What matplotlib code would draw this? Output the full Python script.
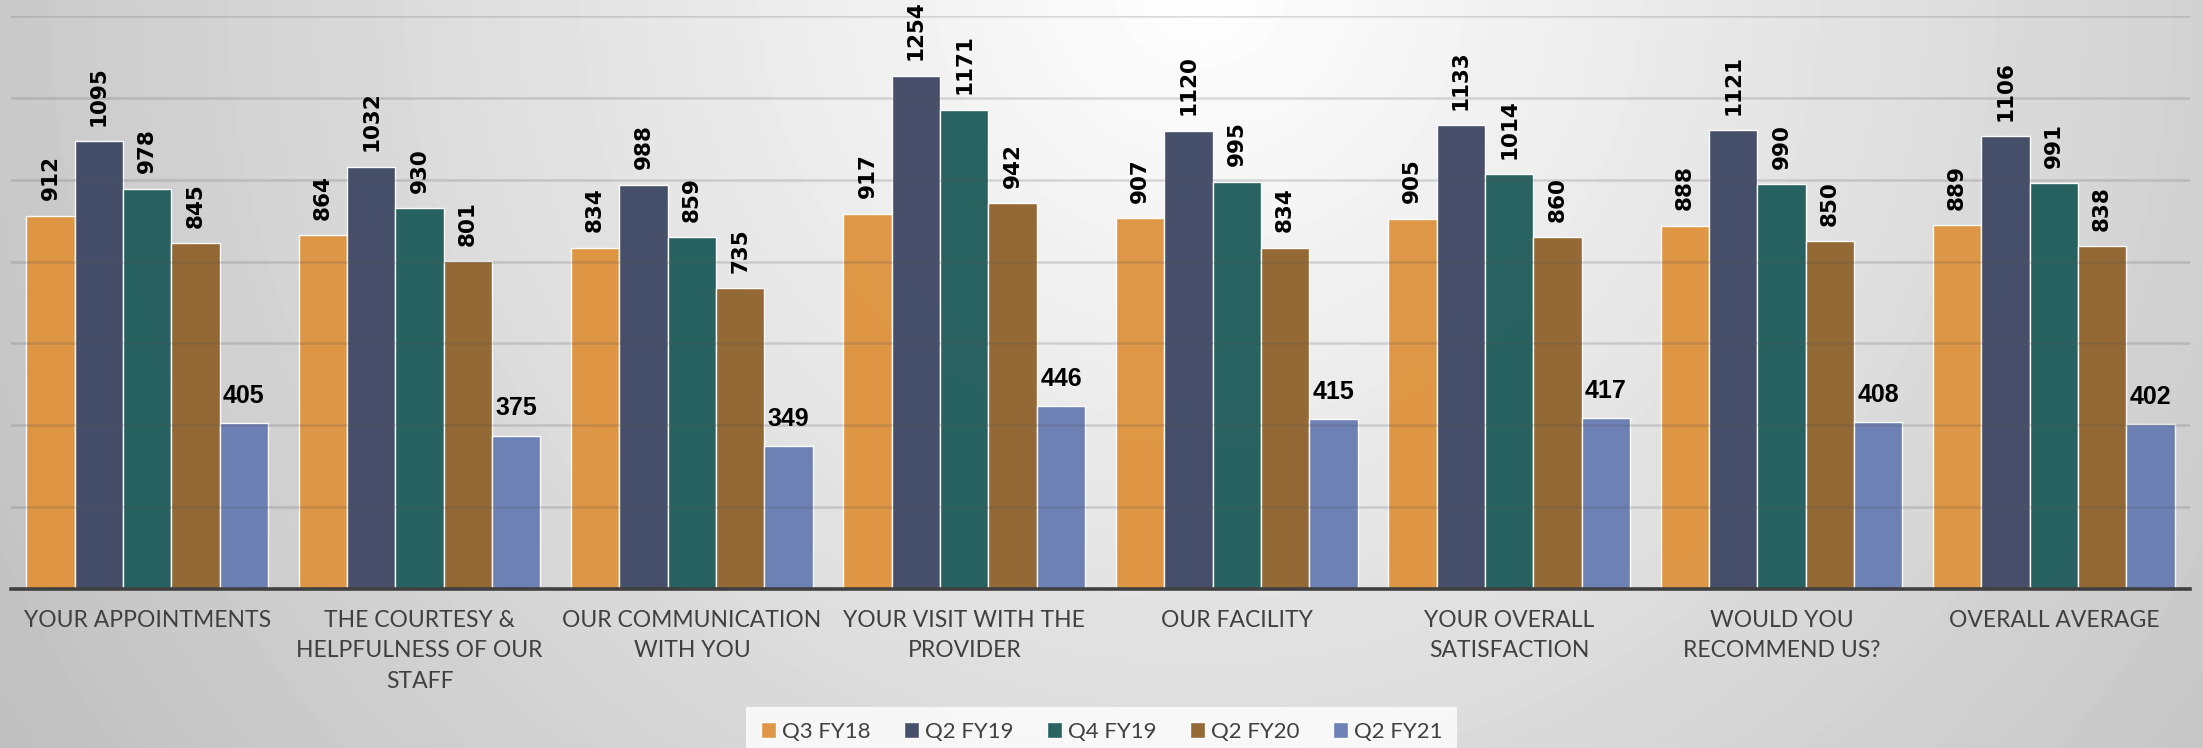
import numpy as np
import matplotlib
matplotlib.use("Agg")
import matplotlib.pyplot as plt

# Survey response counts per question and period
categories = [
    "YOUR APPOINTMENTS",
    "THE COURTESY &\nHELPFULNESS OF OUR\nSTAFF",
    "OUR COMMUNICATION\nWITH YOU",
    "YOUR VISIT WITH THE\nPROVIDER",
    "OUR FACILITY",
    "YOUR OVERALL\nSATISFACTION",
    "WOULD YOU\nRECOMMEND US?",
    "OVERALL AVERAGE",
]
series_names = ["Q3 FY18", "Q2 FY19", "Q4 FY19", "Q2 FY20", "Q2 FY21"]
q3_fy18 = [912, 864, 834, 917, 907, 905, 888, 889]
q2_fy19 = [1095, 1032, 988, 1254, 1120, 1133, 1121, 1106]
q4_fy19 = [978, 930, 859, 1171, 995, 1014, 990, 991]
q2_fy20 = [845, 801, 735, 942, 834, 860, 850, 838]
q2_fy21 = [405, 375, 349, 446, 415, 417, 408, 402]

series_values = [q3_fy18, q2_fy19, q4_fy19, q2_fy20, q2_fy21]
colors = ["#DE9440", "#414A66", "#225E5C", "#916530", "#6A7EB4"]

W, H, DPI = 2203, 748, 100
fig = plt.figure(figsize=(W / DPI, H / DPI), dpi=DPI)

# Radial grey backdrop, brightest near the top centre
bg = fig.add_axes([0, 0, 1, 1], zorder=-10)
yy, xx = np.mgrid[0:H, 0:W]
d = np.hypot(xx - 1200.0, yy + 20.0)
shade = np.clip(255 - 0.045 * d, 190, 255)
bg.imshow(shade, cmap="gray", vmin=0, vmax=255, aspect="auto",
          extent=(0, 1, 0, 1), interpolation="bilinear")
bg.set_axis_off()

ax = fig.add_axes([11 / W, 159 / H, 2179 / W, (589 - 16) / H])
ax.set_facecolor("none")

n = len(series_names)
x = np.arange(len(categories))
bw = 0.1775

for i, (name, vals, col) in enumerate(zip(series_names, series_values, colors)):
    pos = x + (i - (n - 1) / 2) * bw
    bars = ax.bar(pos, vals, width=bw, color=col, alpha=0.97,
                  edgecolor=(1, 1, 1, 0.55), linewidth=1.0, label=name, zorder=2)
    for b, v in zip(bars, vals):
        cx = b.get_x() + b.get_width() / 2
        if i < n - 1:
            ax.annotate(f"{v}", (cx, v), xytext=(0, 11), textcoords="offset points",
                        ha="center", va="bottom", rotation=90,
                        fontsize=15.5, fontweight="bold", color="black",
                        family=["DejaVu Sans"], zorder=5)
        else:
            ax.annotate(f"{v}", (cx, v), xytext=(0, 11), textcoords="offset points",
                        ha="center", va="bottom",
                        fontsize=18, fontweight="bold", color="black",
                        family=["Liberation Sans Narrow", "Liberation Sans", "DejaVu Sans"],
                        zorder=5)

ax.set_xlim(-0.5, len(categories) - 0.5)
ax.set_ylim(0, 1400)
ax.set_yticks(np.arange(0, 1401, 200))
ax.yaxis.grid(True, color="#555555", alpha=0.2, linewidth=1.8, zorder=3)
ax.set_axisbelow(False)
ax.tick_params(axis="y", left=False, labelleft=False)
for s in ["left", "right", "top"]:
    ax.spines[s].set_visible(False)
ax.spines["bottom"].set_color("#404040")
ax.spines["bottom"].set_linewidth(2.6)
ax.spines["bottom"].set_zorder(6)

ax.set_xticks(x)
ax.set_xticklabels(categories, fontsize=16.5, color="#404040",
                   family=["Lato", "DejaVu Sans"], linespacing=1.55)
ax.tick_params(axis="x", length=0, pad=15)

leg = fig.legend(loc="center", bbox_to_anchor=(0.5, 0.022), ncol=n,
                 frameon=True, handlelength=0.7, handleheight=0.7,
                 handletextpad=0.25, columnspacing=1.5, borderpad=0.35,
                 prop={"family": ["Lato", "DejaVu Sans"], "size": 16})
leg.get_frame().set_facecolor((1, 1, 1, 0.15))
leg.get_frame().set_edgecolor("none")
leg.get_frame().set_boxstyle("square", pad=0.3)
for t in leg.get_texts():
    t.set_color("#404040")

fig.savefig("out.png", dpi=DPI)
